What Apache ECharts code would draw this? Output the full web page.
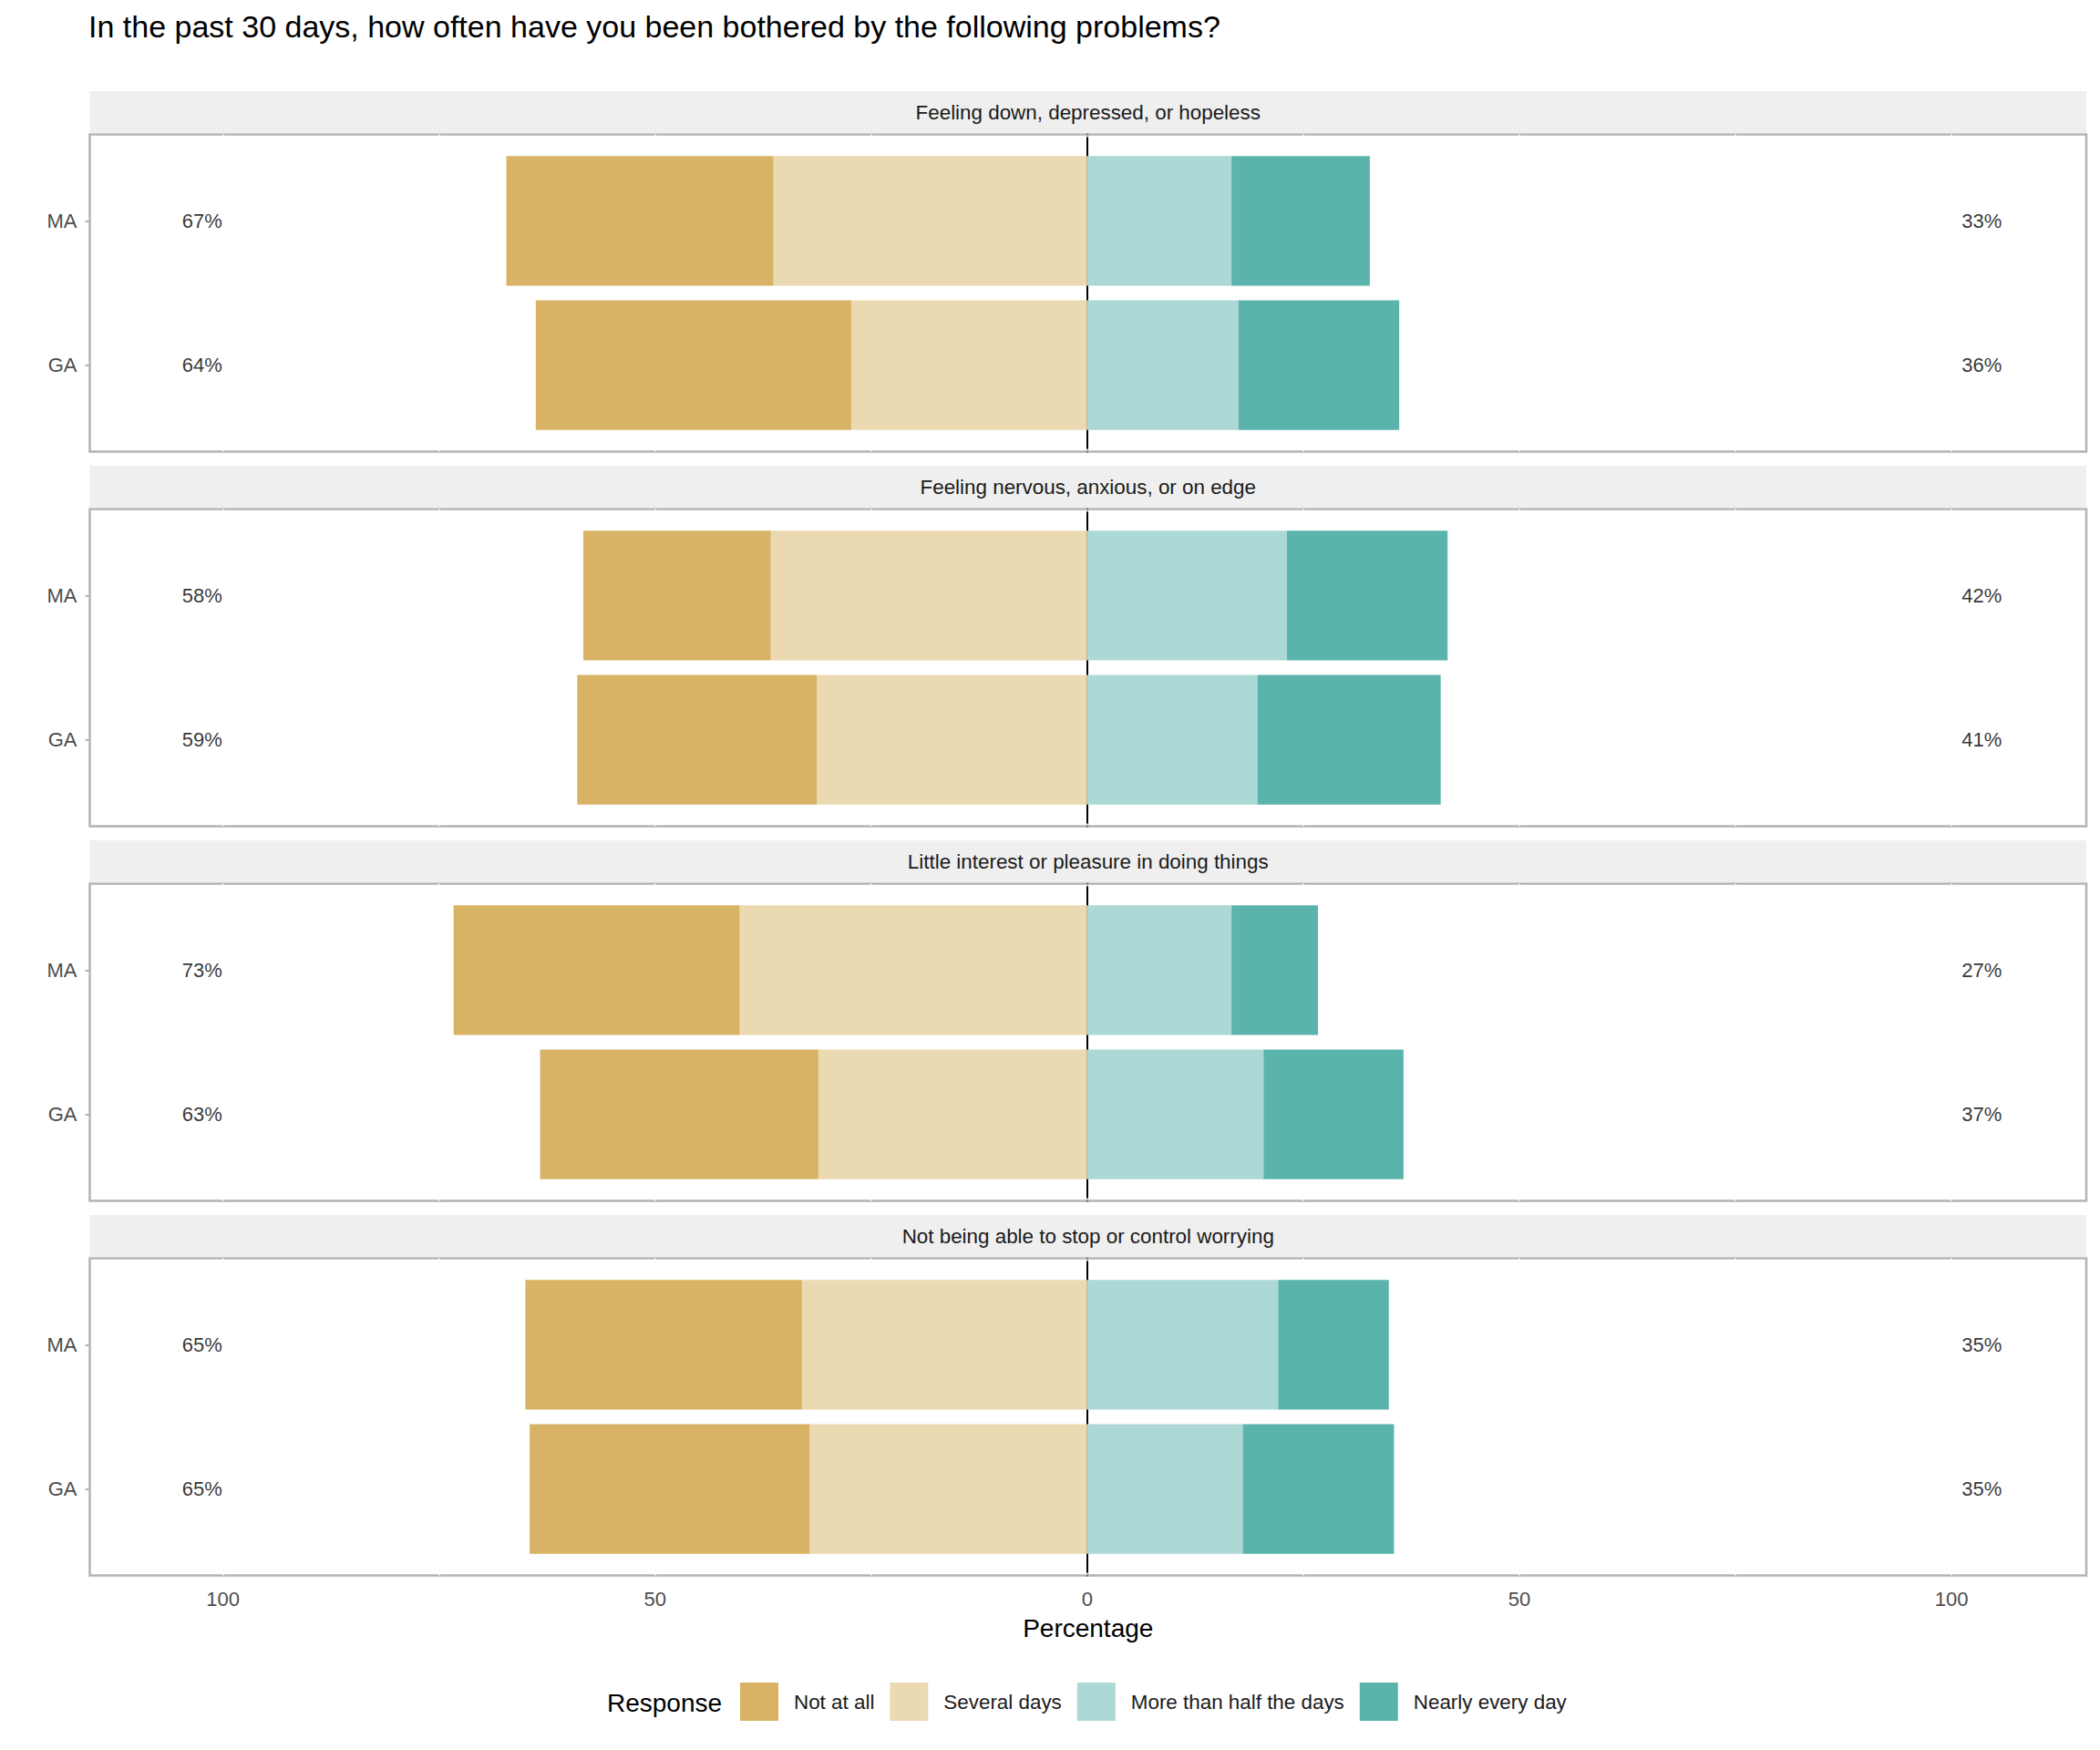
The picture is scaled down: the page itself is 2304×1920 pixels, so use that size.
<!DOCTYPE html>
<html>
<head>
<meta charset="utf-8">
<title>Likert chart</title>
<script src="https://cdn.jsdelivr.net/npm/echarts@6/dist/echarts.min.js"></script>
<style>
  html, body { margin: 0; padding: 0; background: #fff; }
  #chart { width: 2304px; height: 1920px; }
</style>
</head>
<body>
<div id="chart"></div>
<script>
// data (percent of respondents), each pair is [GA, MA]
var groups = ['GA', 'MA'];
var problems = [
  'Feeling down, depressed, or hopeless',
  'Feeling nervous, anxious, or on edge',
  'Little interest or pleasure in doing things',
  'Not being able to stop or control worrying'
];
var responses = ['Not at all', 'Several days', 'More than half the days', 'Nearly every day'];
var notAtAll       = [[36.5, 30.9], [27.7, 21.7], [32.2, 33.1], [32.4, 32.0]];
var severalDays    = [[27.3, 36.3], [31.3, 36.6], [31.1, 40.2], [32.1, 33.0]];
var moreThanHalf   = [[17.5, 16.7], [19.7, 23.1], [20.4, 16.7], [18.0, 22.1]];
var nearlyEveryDay = [[18.6, 16.0], [21.2, 18.6], [16.2, 10.0], [17.5, 12.8]];
var leftPct  = [[64, 67], [59, 58], [63, 73], [65, 65]];
var rightPct = [[36, 33], [41, 42], [37, 27], [35, 35]];
var xTicks = [-100, -50, 0, 50, 100];
var gridTicks = [-100, -75, -50, -25, 0, 25, 50, 75, 100];

var colors = {
  'Not at all': '#d8b365',
  'Several days': '#ebd9b2',
  'More than half the days': '#acd9d5',
  'Nearly every day': '#5ab4ac'
};

// layout (px)
var FONT = 'Liberation Sans, Arial, Helvetica, sans-serif';
var X_MIN = -115.4, X_MAX = 115.6;
var panelLeft = 98.5, panelWidth = 2190.5;
var firstPanelTop = 147.5, panelH = 348, period = 411, stripH = 47.5;
var inset = 15.8;
var LEFT_LABEL_X = -102.4, RIGHT_LABEL_X = 103.5;

var chart = echarts.init(document.getElementById('chart'), null, { renderer: 'svg' });

var grids = [], xAxes = [], yAxes = [], series = [], graphics = [];

problems.forEach(function (prob, k) {
  var top = firstPanelTop + period * k;
  var last = k === problems.length - 1;
  var fg = grids.length;

  // frame grid: border, white grid notches, zero line
  grids.push({
    left: panelLeft, top: top, width: panelWidth, height: panelH,
    show: true, backgroundColor: '#fff', borderColor: '#b3b3b3', borderWidth: 2.5,
    containLabel: false, outerBoundsMode: 'none'
  });
  xAxes.push({
    gridIndex: fg, type: 'value', min: X_MIN, max: X_MAX, position: 'bottom',
    axisLine: { show: false, onZero: false },
    axisTick: { show: true, inside: true, length: 3, customValues: gridTicks,
      lineStyle: { color: '#fff', width: 1.5 } },
    axisLabel: last ? {
      show: true, customValues: xTicks, margin: 15, fontSize: 22, color: '#4d4d4d',
      fontFamily: FONT, formatter: function (v) { return Math.abs(v); }
    } : { show: false },
    splitLine: { show: false },
    name: last ? 'Percentage' : '', nameLocation: 'middle', nameGap: 44,
    nameTextStyle: { fontSize: 28, color: '#000', fontFamily: FONT }
  });
  xAxes.push({
    gridIndex: fg, type: 'value', min: X_MIN, max: X_MAX, position: 'top',
    axisLine: { show: false, onZero: false },
    axisTick: { show: true, inside: true, length: 3, customValues: gridTicks,
      lineStyle: { color: '#fff', width: 1.5 } },
    axisLabel: { show: false }, splitLine: { show: false }
  });
  yAxes.push({
    gridIndex: fg, type: 'value', min: 0, max: 1,
    axisLine: { show: true, onZero: true, lineStyle: { color: '#000', width: 2 } },
    axisTick: { show: false }, axisLabel: { show: false }, splitLine: { show: false }
  });

  // data grid, inset so the two rows sit like ggplot's expanded band scale
  var dg = grids.length;
  grids.push({
    left: panelLeft, top: top + inset, width: panelWidth, height: panelH - 2 * inset,
    containLabel: false, outerBoundsMode: 'none'
  });
  var dx = xAxes.length;
  xAxes.push({ gridIndex: dg, type: 'value', min: X_MIN, max: X_MAX, show: false });
  var dy = yAxes.length;
  yAxes.push({
    gridIndex: dg, type: 'category', data: groups,
    axisLine: { show: false, onZero: false },
    axisTick: { show: true, length: 5, alignWithLabel: true, lineStyle: { color: '#b3b3b3', width: 2 } },
    axisLabel: { fontSize: 22, color: '#4d4d4d', margin: 14, fontFamily: FONT },
    splitLine: { show: false }
  });

  var stackId = 'p' + k;
  function bar(name, values, sign) {
    series.push({
      name: name, type: 'bar', stack: stackId, xAxisIndex: dx, yAxisIndex: dy,
      barCategoryGap: '10%',
      itemStyle: { color: colors[name] },
      data: values.map(function (v) { return sign * v; })
    });
  }
  // left side: the middle category sits next to zero
  bar('Several days', severalDays[k], -1);
  bar('Not at all', notAtAll[k], -1);
  bar('More than half the days', moreThanHalf[k], 1);
  bar('Nearly every day', nearlyEveryDay[k], 1);

  function pctLabels(xPos, pcts) {
    series.push({
      type: 'scatter', xAxisIndex: dx, yAxisIndex: dy, symbolSize: 0, silent: true,
      data: pcts.map(function (p, j) { return { value: [xPos, j], pct: p }; }),
      label: {
        show: true, position: 'inside', fontSize: 22, color: '#000', fontFamily: FONT,
        formatter: function (d) { return d.data.pct + '%'; }
      }
    });
  }
  pctLabels(LEFT_LABEL_X, leftPct[k]);
  pctLabels(RIGHT_LABEL_X, rightPct[k]);

  // facet strip
  graphics.push({
    type: 'rect', z: 10,
    shape: { x: panelLeft, y: top - stripH, width: panelWidth, height: stripH - 1.2 },
    style: { fill: '#efefef' }
  });
  graphics.push({
    type: 'text', z: 11,
    style: {
      text: prob, x: panelLeft + panelWidth / 2, y: top - stripH / 2,
      align: 'center', verticalAlign: 'middle',
      fontSize: 22.4, fontFamily: FONT, fill: '#1a1a1a'
    }
  });
});

graphics.push({
  type: 'text',
  style: {
    text: 'Response', x: 666, y: 1868, align: 'left', verticalAlign: 'middle',
    fontSize: 28, fontFamily: FONT, fill: '#000'
  }
});

var option = {
  animation: false,
  textStyle: { fontFamily: FONT },
  title: {
    text: 'In the past 30 days, how often have you been bothered by the following problems?',
    left: 97, top: 12, padding: 0,
    textStyle: { fontSize: 34, fontWeight: 'normal', color: '#000', fontFamily: FONT }
  },
  legend: {
    data: responses, left: 812, top: 1846, orient: 'horizontal',
    itemWidth: 42, itemHeight: 42, itemGap: 17, icon: 'rect', padding: 0,
    textStyle: { fontSize: 22.4, color: '#1a1a1a', fontFamily: FONT, padding: [0, 0, 0, 12] }
  },
  grid: grids,
  xAxis: xAxes,
  yAxis: yAxes,
  series: series,
  graphic: graphics
};

chart.setOption(option);
</script>
</body>
</html>
